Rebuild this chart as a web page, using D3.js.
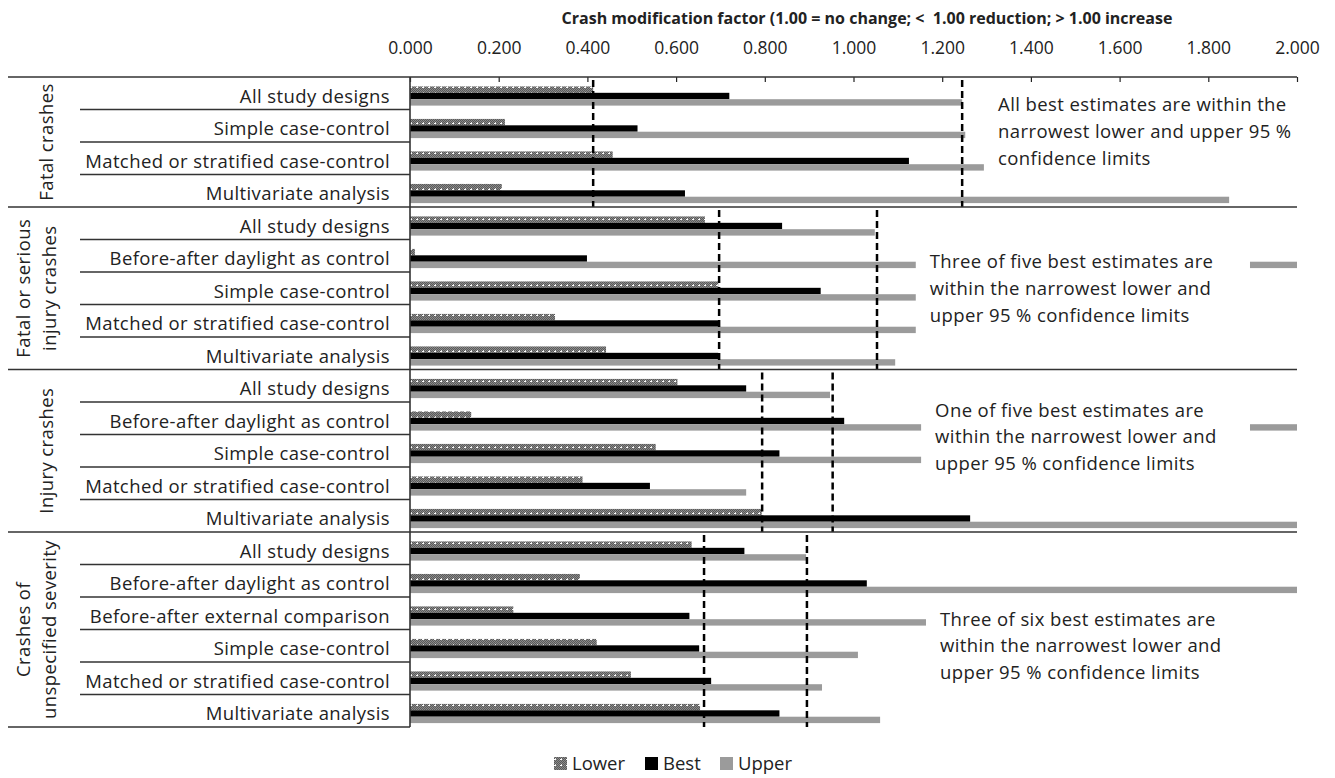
<!DOCTYPE html>
<html>
<head>
<meta charset="utf-8">
<script src="https://cdn.jsdelivr.net/npm/d3@7"></script>
<style>
  html, body { margin: 0; padding: 0; background: #fff; }
  svg { display: block; }
  text { font-family: "Open Sans", Lato, sans-serif; fill: #222; }
  .lbl { letter-spacing: 0.4px; }
</style>
</head>
<body>
<svg id="chart" width="1335" height="778"></svg>
<script>
// ---------------- DATA ----------------
const groupLabels = [
  ["Fatal crashes"],
  ["Fatal or serious", "injury crashes"],
  ["Injury crashes"],
  ["Crashes of", "unspecified severity"]
];
const groupOf = [0,0,0,0, 1,1,1,1,1, 2,2,2,2,2, 3,3,3,3,3,3];
const categories = [
  "All study designs", "Simple case-control", "Matched or stratified case-control", "Multivariate analysis",
  "All study designs", "Before-after daylight as control", "Simple case-control", "Matched or stratified case-control", "Multivariate analysis",
  "All study designs", "Before-after daylight as control", "Simple case-control", "Matched or stratified case-control", "Multivariate analysis",
  "All study designs", "Before-after daylight as control", "Before-after external comparison", "Simple case-control", "Matched or stratified case-control", "Multivariate analysis"
];
const lowerValues = [0.413, 0.214, 0.457, 0.207,
                     0.665, 0.011, 0.695, 0.327, 0.442,
                     0.603, 0.138, 0.554, 0.389, 0.793,
                     0.635, 0.383, 0.233, 0.421, 0.498, 0.654];
const bestValues  = [0.720, 0.513, 1.125, 0.620,
                     0.839, 0.399, 0.926, 0.699, 0.695,
                     0.758, 0.979, 0.833, 0.541, 1.263,
                     0.754, 1.030, 0.630, 0.652, 0.679, 0.833];
const upperValues = [1.245, 1.252, 1.294, 1.847,
                     1.048, 2.000, 1.300, 1.250, 1.094,
                     0.947, 2.000, 1.300, 0.758, 2.000,
                     0.893, 2.000, 1.400, 1.010, 0.929, 1.060];
const narrowestLower = [0.413, 0.697, 0.794, 0.663];
const narrowestUpper = [1.245, 1.053, 0.953, 0.895];
const xTicks = [0, 0.2, 0.4, 0.6, 0.8, 1.0, 1.2, 1.4, 1.6, 1.8, 2.0];
const seriesNames = ["Lower", "Best", "Upper"];
const titleText = "Crash modification factor (1.00 = no change; <  1.00 reduction; > 1.00 increase";
const noteLines = [
  ["All best estimates are within the", "narrowest lower and upper 95 %", "confidence limits"],
  ["Three of five best estimates are", "within the narrowest lower and", "upper 95 % confidence limits"],
  ["One of five best estimates are", "within the narrowest lower and", "upper 95 % confidence limits"],
  ["Three of six best estimates are", "within the narrowest lower and", "upper 95 % confidence limits"]
];

// ---------------- LAYOUT ----------------
const L = { x0: 410, x1: 1297, y0: 77, y1: 727, labelLeft: 8, rowLineLeft: 80 };
const FS = 18.5;
const notePos = [ // x in data units, r = row position of first line centre
  { x: 1.326, r: 0.86, boxRight: 2.0 },
  { x: 1.172, r: 5.69, boxRight: 1.894 },
  { x: 1.184, r: 10.25, boxRight: 1.894 },
  { x: 1.195, r: 16.68, boxRight: 1.894 }
];
const colors = { Best: "#000000", Upper: "#9b9b9b" };

const svg = d3.select("#chart");
const defs = svg.append("defs");
const pat = defs.append("pattern").attr("id", "lowerPat")
  .attr("patternUnits", "userSpaceOnUse").attr("width", 6).attr("height", 6);
pat.append("rect").attr("width", 6).attr("height", 6).attr("fill", "#8a8a8a");
for (let i = 0; i < 6; i++) for (let j = 0; j < 6; j++) {
  if ((i + j) % 2 === 0) pat.append("rect").attr("x", i).attr("y", j).attr("width", 1).attr("height", 1).attr("fill", "#5a5a5a");
}
pat.append("rect").attr("x", 2).attr("y", 3).attr("width", 1).attr("height", 1).attr("fill", "#ffffff");
pat.append("rect").attr("x", 3).attr("y", 2).attr("width", 1).attr("height", 1).attr("fill", "#dddddd");
pat.append("rect").attr("x", 3).attr("y", 3).attr("width", 1).attr("height", 1).attr("fill", "#ffffff");
const fills = { Lower: "url(#lowerPat)", Best: colors.Best, Upper: colors.Upper };

const x = d3.scaleLinear().domain([0, 2]).range([L.x0, L.x1]);
const y = d3.scaleBand().domain(d3.range(categories.length)).range([L.y0, L.y1]).padding(0);
const rowH = y.bandwidth();
const ySub = d3.scaleBand().domain(seriesNames).range([rowH * 0.29, rowH * 0.88]).padding(0);
const rowY = r => L.y0 + r * rowH;

const rows = categories.map((c, i) => ({ i, c, Lower: lowerValues[i], Best: bestValues[i], Upper: upperValues[i] }));

// bars
const gBars = svg.append("g");
seriesNames.forEach(s => {
  gBars.selectAll(null).data(rows).join("rect")
    .attr("x", x(0))
    .attr("y", d => y(d.i) + ySub(s))
    .attr("width", d => x(Math.min(d[s], 2)) - x(0))
    .attr("height", ySub.bandwidth())
    .attr("fill", fills[s]);
});

// group extents
const groupExt = groupLabels.map((g, gi) => {
  const idx = rows.filter(r => groupOf[r.i] === gi).map(r => r.i);
  return { gi, top: y(d3.min(idx)), bottom: y(d3.max(idx)) + rowH };
});

// dashed narrowest limits
const gDash = svg.append("g");
groupExt.forEach(g => {
  [narrowestLower[g.gi], narrowestUpper[g.gi]].forEach(v => {
    gDash.append("line")
      .attr("x1", x(v)).attr("x2", x(v))
      .attr("y1", g.top + 3).attr("y2", g.bottom)
      .attr("stroke", "#000").attr("stroke-width", 2.5)
      .attr("stroke-dasharray", "7,4");
  });
});

// notes with white boxes
notePos.forEach((p, gi) => {
  const g = svg.append("g");
  const tx = x(p.x);
  const c1 = rowY(p.r);
  const lh = 26.8;
  g.append("rect")
    .attr("x", tx - 14).attr("y", c1 - 20)
    .attr("width", x(p.boxRight) - (tx - 14))
    .attr("height", lh * 2 + 40)
    .attr("fill", gi === 0 ? "none" : "#fff");
  noteLines[gi].forEach((t, k) => {
    g.append("text").attr("class", "lbl").attr("x", tx).attr("y", c1 + k * lh)
      .attr("dy", "0.35em").attr("font-size", FS).text(t);
  });
});

// top axis
const ax = svg.append("g").attr("transform", `translate(0,${L.y0})`)
  .call(d3.axisTop(x).tickValues(xTicks).tickFormat(d3.format(".3f"))
    .tickSize(-5).tickSizeOuter(0).tickPadding(23));
ax.select(".domain").remove();
ax.selectAll(".tick line").attr("stroke", "#222").attr("stroke-width", 1.2);
ax.selectAll(".tick text").attr("font-size", 17.5).attr("fill", "#222")
  .style("font-family", "'Open Sans', Lato, sans-serif");

// title
svg.append("text").attr("x", 867).attr("y", 18).attr("dy", "0.35em")
  .attr("text-anchor", "middle").attr("font-weight", "bold").attr("font-size", 16)
  .style("white-space", "pre")
  .text(titleText);

// lines: top, group separators (full width), bottom (label area only)
const gLines = svg.append("g").attr("stroke", "#333").attr("stroke-width", 1.6);
groupExt.forEach(g => {
  gLines.append("line").attr("x1", L.labelLeft).attr("x2", L.x1)
    .attr("y1", g.top).attr("y2", g.top);
});
gLines.append("line").attr("x1", L.labelLeft).attr("x2", L.x0)
  .attr("y1", L.y1).attr("y2", L.y1);
rows.forEach(r => {
  if (r.i > 0 && groupOf[r.i] === groupOf[r.i - 1]) {
    gLines.append("line").attr("x1", L.rowLineLeft).attr("x2", L.x0)
      .attr("y1", y(r.i)).attr("y2", y(r.i));
  }
});
gLines.append("line").attr("x1", L.x0).attr("x2", L.x0).attr("y1", L.y0).attr("y2", L.y1);

// category labels
svg.append("g").selectAll("text").data(rows).join("text")
  .attr("class", "lbl")
  .attr("x", 390).attr("y", d => y(d.i) + rowH / 2 + 3).attr("dy", "0.35em")
  .attr("text-anchor", "end").attr("font-size", FS).text(d => d.c);

// group labels (rotated)
groupExt.forEach(g => {
  const lines = groupLabels[g.gi];
  const cy = (g.top + g.bottom) / 2;
  const xs = lines.length === 1 ? [47] : [24, 50];
  lines.forEach((t, k) => {
    svg.append("text").attr("class", "lbl")
      .attr("transform", `translate(${xs[k]},${cy}) rotate(-90)`)
      .attr("text-anchor", "middle").attr("dy", "0.35em").attr("font-size", FS)
      .text(t);
  });
});

// legend
const leg = svg.append("g");
const legItems = [
  { s: "Lower", x: 554 },
  { s: "Best", x: 645 },
  { s: "Upper", x: 720 }
];
legItems.forEach(it => {
  leg.append("rect").attr("x", it.x).attr("y", 757).attr("width", 13).attr("height", 13)
    .attr("fill", fills[it.s]);
  leg.append("text").attr("x", it.x + 18).attr("y", 764).attr("dy", "0.35em")
    .attr("font-size", FS).text(it.s);
});
</script>
</body>
</html>
